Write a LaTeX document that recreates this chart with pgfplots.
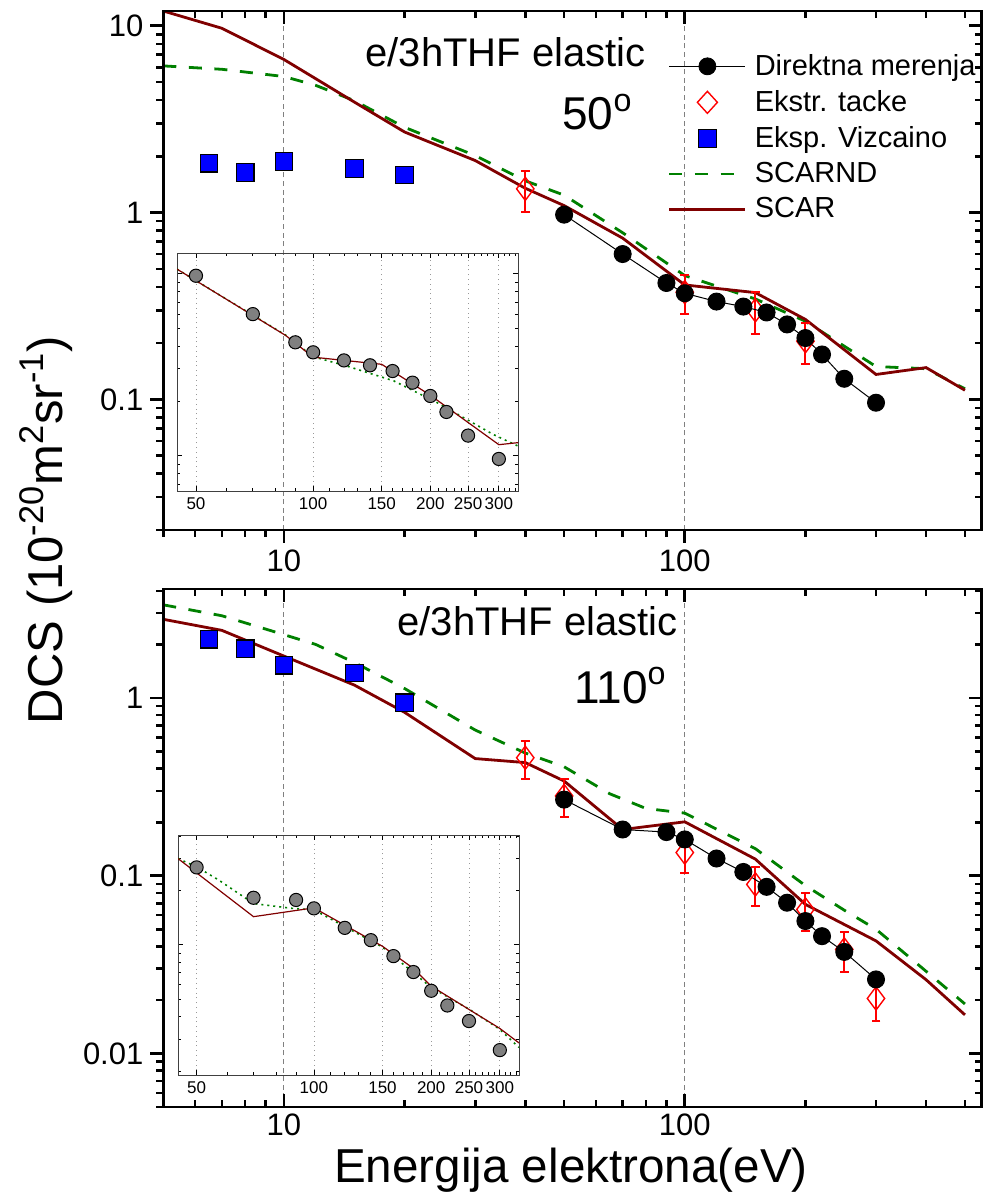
\documentclass[border=0pt]{standalone}
\usepackage{fontspec}
\setmainfont{Liberation Sans}
\usepackage{pgfplots}
\pgfplotsset{compat=1.18}
\definecolor{scar}{RGB}{128,0,0}
\definecolor{scarnd}{RGB}{0,128,0}
\definecolor{viz}{RGB}{0,0,255}
\definecolor{ext}{RGB}{255,0,0}
\definecolor{insetgray}{RGB}{128,128,128}

\begin{document}
\begin{tikzpicture}
\useasboundingbox (0pt,0pt) rectangle (491.5pt,-599pt);

% ================= TOP PANEL =================
\begin{axis}[
  scale only axis, width=409.1pt, height=259.5pt,
  at={(81.65pt,-5.5pt)}, anchor=north west,
  xmode=log, ymode=log, xmin=5, xmax=550, ymin=0.02, ymax=12,
  axis line style={line width=1.3pt},
  tick style={black, line width=1.3pt},
  major tick length=6.5pt, minor tick length=3.5pt,
  xtick={10,100}, xticklabels={10,100},
  minor xtick={5,6,7,8,9,20,30,40,50,60,70,80,90,200,300,400,500},
  ytick={0.1,1,10}, yticklabels={0.1,1,10},
  minor ytick={0.02,0.03,0.04,0.05,0.06,0.07,0.08,0.09,0.2,0.3,0.4,0.5,0.6,0.7,0.8,0.9,2,3,4,5,6,7,8,9},
  ticklabel style={font=\fontsize{15.5}{18}\selectfont},
  xtick pos=bottom, ytick pos=left, tick align=outside,
  xmajorgrids, major x grid style={gray, line width=0.5pt, dash pattern=on 2.5pt off 1.8pt},
  legend style={at={(0.609,0.925)}, anchor=north west, draw=none, fill=none,
    font=\fontsize{14.5}{17}\selectfont, row sep=6pt, column sep=4pt,
    nodes={inner sep=0pt}},
  legend cell align=left,
]
\addlegendimage{legend image code/.code={\draw[black, line width=0.5pt] (0pt,0pt) -- (38pt,0pt); \fill[black] (19pt,0pt) circle (4.25pt);}}
\addlegendentry{Direktna merenja}
\addlegendimage{legend image code/.code={\draw[ext, line width=0.7pt] (19pt,5.5pt) -- (24pt,0pt) -- (19pt,-5.5pt) -- (14pt,0pt) -- cycle;}}
\addlegendentry{Ekstr. tacke}
\addlegendimage{legend image code/.code={\draw[black, fill=viz, line width=0.6pt] (14.5pt,-4.5pt) rectangle (23.5pt,4.5pt);}}
\addlegendentry{Eksp. Vizcaino}
\addlegendimage{legend image code/.code={\draw[scarnd, line width=1.4pt, dash pattern=on 6.5pt off 6.3pt] (0pt,0pt) -- (38pt,0pt);}}
\addlegendentry{SCARND}
\addlegendimage{legend image code/.code={\draw[scar, line width=1.4pt] (0pt,0pt) -- (38pt,0pt);}}
\addlegendentry{SCAR}

\addplot[forget plot, scarnd, line width=1.4pt, no marks, dash pattern=on 6.5pt off 6.3pt] coordinates {
(5,6.1) (7,5.85) (10,5.35) (12,4.8) (15,3.97) (20,2.86) (30,2.02) (40,1.48) (50,1.24)
(70,0.78) (100,0.46) (150,0.345) (200,0.262) (300,0.15) (400,0.146) (500,0.114)};
\addplot[forget plot, scar, line width=1.4pt, no marks] coordinates {
(5,12.0) (7,9.7) (10,6.6) (15,3.9) (20,2.7) (30,1.9) (40,1.35) (50,1.09) (70,0.73)
(100,0.41) (150,0.373) (200,0.268) (300,0.136) (400,0.148) (500,0.112)};
\addplot[forget plot, only marks, mark=square*, mark size=4.4pt, mark options={fill=viz, draw=black, line width=0.6pt}] coordinates {
(6.5,1.84) (8,1.64) (10,1.88) (15,1.72) (20,1.59)};
\addplot[forget plot, only marks, mark=diamond, mark size=5.8pt, mark options={draw=ext, fill=white, line width=0.7pt},
  error bars/.cd, y dir=both, y explicit, error bar style={ext, line width=1pt},
  error mark options={rotate=90, ext, line width=1pt, mark size=2.2pt}] coordinates {
(40,1.34) +- (0,0.33)
(100,0.375) +- (0,0.09)
(150,0.30) +- (0,0.075)
(200,0.205) +- (0,0.05)};
\addplot[forget plot, black, line width=0.5pt, mark=*, mark size=4.25pt, mark options={fill=black, draw=black}] coordinates {
(50,0.975) (70,0.60) (90,0.42) (100,0.37) (120,0.334) (140,0.314) (160,0.292)
(180,0.252) (200,0.213) (220,0.174) (250,0.129) (300,0.096)};
\end{axis}

\begin{axis}[
  scale only axis, width=409.1pt, height=259.5pt,
  at={(81.65pt,-5.5pt)}, anchor=north west,
  xmode=log, ymode=log, xmin=5, xmax=550, ymin=0.02, ymax=12,
  axis line style={line width=1.3pt},
  tick style={black, line width=1.3pt},
  major tick length=6.5pt, minor tick length=3.5pt,
  xtick={10,100}, xticklabels={},
  minor xtick={5,6,7,8,9,20,30,40,50,60,70,80,90,200,300,400,500},
  ytick={0.1,1,10}, yticklabels={},
  minor ytick={0.02,0.03,0.04,0.05,0.06,0.07,0.08,0.09,0.2,0.3,0.4,0.5,0.6,0.7,0.8,0.9,2,3,4,5,6,7,8,9},
  xtick pos=top, ytick pos=right, tick align=inside,
]
\end{axis}

% top inset
\begin{axis}[
  scale only axis, width=170.5pt, height=119pt,
  at={(88.5pt,-126.5pt)}, anchor=north west,
  xmode=log, ymode=log, xmin=44.7, xmax=336, ymin=0.064, ymax=1.30,
  axis line style={line width=0.5pt, black!75},
  tick style={black, line width=0.4pt},
  major tick length=2.5pt, minor tick length=1.3pt,
  tick align=inside, xtick pos=both, ytick pos=both,
  xtick={50,100,150,200,250,300}, xticklabels={50,100,150,200,250,300},
  minor xtick={60,70,80,90,110,120,130,140,160,170,180,190,210,220,230,240,260,270,280,290,310,320,330},
  ytick={0.1,1}, yticklabels={},
  minor ytick={0.07,0.08,0.09,0.2,0.3,0.4,0.5,0.6,0.7,0.8,0.9},
  xmajorgrids, major x grid style={gray!80, line width=0.4pt, dotted},
  ticklabel style={font=\fontsize{8.5}{10}\selectfont},
]
\addplot[scarnd, line width=0.8pt, no marks, dash pattern=on 1pt off 2pt] coordinates {
(44.7,1.06) (85,0.46) (100,0.35) (122,0.311) (161,0.258) (208,0.196) (290,0.131) (336,0.113)};
\addplot[scar, line width=0.6pt, no marks] coordinates {
(44.7,1.06) (85,0.458) (100,0.348) (150,0.318) (200,0.215) (300,0.115) (336,0.118)};
\addplot[only marks, mark=*, mark size=3.3pt, mark options={fill=insetgray, draw=black, line width=0.5pt}] coordinates {
(50,0.975) (70,0.60) (90,0.42) (100,0.37) (120,0.334) (140,0.314) (160,0.292)
(180,0.252) (200,0.213) (220,0.174) (250,0.129) (300,0.096)};
\end{axis}

% ================= BOTTOM PANEL =================
\begin{axis}[
  scale only axis, width=409.1pt, height=259pt,
  at={(81.65pt,-294.5pt)}, anchor=north west,
  xmode=log, ymode=log, xmin=5, xmax=550, ymin=0.005, ymax=4.1,
  axis line style={line width=1.3pt},
  tick style={black, line width=1.3pt},
  major tick length=6.5pt, minor tick length=3.5pt,
  xtick={10,100}, xticklabels={10,100},
  minor xtick={5,6,7,8,9,20,30,40,50,60,70,80,90,200,300,400,500},
  ytick={0.01,0.1,1}, yticklabels={},
  minor ytick={0.005,0.006,0.007,0.008,0.009,0.02,0.03,0.04,0.05,0.06,0.07,0.08,0.09,0.2,0.3,0.4,0.5,0.6,0.7,0.8,0.9,2,3,4},
  ticklabel style={font=\fontsize{15.5}{18}\selectfont},
  xtick pos=both, ytick pos=right, tick align=inside,
  xmajorgrids, major x grid style={gray, line width=0.5pt, dash pattern=on 2.5pt off 1.8pt},
]
\addplot[scarnd, line width=1.4pt, no marks, dash pattern=on 6.5pt off 6.3pt] coordinates {
(5,3.34) (7,2.9) (10,2.27) (12,2.0) (15,1.58) (20,1.13) (30,0.66) (40,0.49) (50,0.41)
(65,0.289) (80,0.239) (100,0.225) (150,0.142) (200,0.088) (250,0.064) (300,0.050) (400,0.029) (500,0.019)};
\addplot[scar, line width=1.4pt, no marks] coordinates {
(5,2.77) (7,2.40) (10,1.72) (15,1.18) (20,0.83) (30,0.456) (40,0.433) (50,0.341) (70,0.182)
(100,0.201) (150,0.124) (200,0.069) (300,0.043) (400,0.026) (500,0.0165)};
\addplot[only marks, mark=square*, mark size=4.4pt, mark options={fill=viz, draw=black, line width=0.6pt}] coordinates {
(6.5,2.14) (8,1.89) (10,1.53) (15,1.38) (20,0.94)};
\addplot[only marks, mark=diamond, mark size=5.8pt, mark options={draw=ext, fill=white, line width=0.7pt},
  error bars/.cd, y dir=both, y explicit, error bar style={ext, line width=1pt},
  error mark options={rotate=90, ext, line width=1pt, mark size=2.2pt}] coordinates {
(40,0.461) +- (0,0.113)
(50,0.281) +- (0,0.068)
(100,0.135) +- (0,0.032)
(150,0.0894) +- (0,0.022)
(200,0.0646) +- (0,0.0155)
(250,0.0385) +- (0,0.0098)
(300,0.0204) +- (0,0.0052)};
\addplot[black, line width=0.5pt, mark=*, mark size=4.25pt, mark options={fill=black, draw=black}] coordinates {
(50,0.268) (70,0.182) (90,0.176) (100,0.160) (120,0.125) (140,0.105) (160,0.0866)
(180,0.0705) (200,0.0556) (220,0.0457) (250,0.0373) (300,0.0261)};
\end{axis}

\begin{axis}[
  scale only axis, width=409.1pt, height=259pt,
  at={(81.65pt,-294.5pt)}, anchor=north west,
  xmode=log, ymode=log, xmin=5, xmax=550, ymin=0.005, ymax=4.1,
  axis line style={line width=1.3pt},
  tick style={black, line width=1.3pt},
  major tick length=6.5pt, minor tick length=3.5pt,
  xtick=\empty,
  ytick={0.01,0.1,1}, yticklabels={0.01,0.1,1},
  minor ytick={0.005,0.006,0.007,0.008,0.009,0.02,0.03,0.04,0.05,0.06,0.07,0.08,0.09,0.2,0.3,0.4,0.5,0.6,0.7,0.8,0.9,2,3,4},
  ticklabel style={font=\fontsize{15.5}{18}\selectfont},
  ytick pos=left, tick align=outside,
]
\end{axis}

% bottom inset
\begin{axis}[
  scale only axis, width=170.5pt, height=120pt,
  at={(89pt,-417.5pt)}, anchor=north west,
  xmode=log, ymode=log, xmin=44.8, xmax=336, ymin=0.019, ymax=0.405,
  axis line style={line width=0.5pt, black!75},
  tick style={black, line width=0.4pt},
  major tick length=2.5pt, minor tick length=1.3pt,
  tick align=inside, xtick pos=both, ytick pos=both,
  xtick={50,100,150,200,250,300}, xticklabels={50,100,150,200,250,300},
  minor xtick={60,70,80,90,110,120,130,140,160,170,180,190,210,220,230,240,260,270,280,290,310,320,330},
  ytick={0.1}, yticklabels={},
  minor ytick={0.02,0.03,0.04,0.05,0.06,0.07,0.08,0.09,0.2,0.3,0.4},
  xmajorgrids, major x grid style={gray!80, line width=0.4pt, dotted},
  ticklabel style={font=\fontsize{8.5}{10}\selectfont},
]
\addplot[scarnd, line width=0.8pt, no marks, dash pattern=on 1pt off 2pt] coordinates {
(44.8,0.30) (50,0.27) (57,0.228) (70,0.169) (88,0.159) (100,0.156) (150,0.097) (200,0.058) (250,0.044) (300,0.034) (336,0.027)};
\addplot[scar, line width=0.6pt, no marks] coordinates {
(44.8,0.30) (70,0.143) (100,0.160) (150,0.098) (180,0.074) (200,0.059) (300,0.0344) (336,0.0286)};
\addplot[only marks, mark=*, mark size=3.3pt, mark options={fill=insetgray, draw=black, line width=0.5pt}] coordinates {
(50,0.268) (70,0.182) (90,0.177) (100,0.159) (120,0.124) (140,0.106) (160,0.0865)
(180,0.0706) (200,0.0556) (220,0.0461) (250,0.0378) (300,0.0261)};
\end{axis}

% ================= TEXT =================
\node[anchor=base west, inner sep=0pt, font=\fontsize{20}{24}\selectfont] at (182.5pt,-33.5pt) {e/3hTHF elastic};
\node[anchor=base west, inner sep=0pt, font=\fontsize{23}{27}\selectfont] at (281pt,-65pt) {50\textsuperscript{o}};
\node[anchor=base west, inner sep=0pt, font=\fontsize{20}{24}\selectfont] at (198.5pt,-317.5pt) {e/3hTHF elastic};
\node[anchor=base west, inner sep=0pt, font=\fontsize{23}{27}\selectfont] at (287pt,-351.5pt) {110\textsuperscript{o}};
\node[anchor=base, inner sep=0pt, font=\fontsize{23.8}{28}\selectfont] at (285.5pt,-591pt) {Energija elektrona(eV)};
\node[anchor=base, rotate=90, inner sep=0pt, font=\fontsize{24.5}{28}\selectfont] at (31pt,-265pt) {DCS (10\textsuperscript{-20}m\textsuperscript{2}sr\textsuperscript{-1})};
\end{tikzpicture}
\end{document}
